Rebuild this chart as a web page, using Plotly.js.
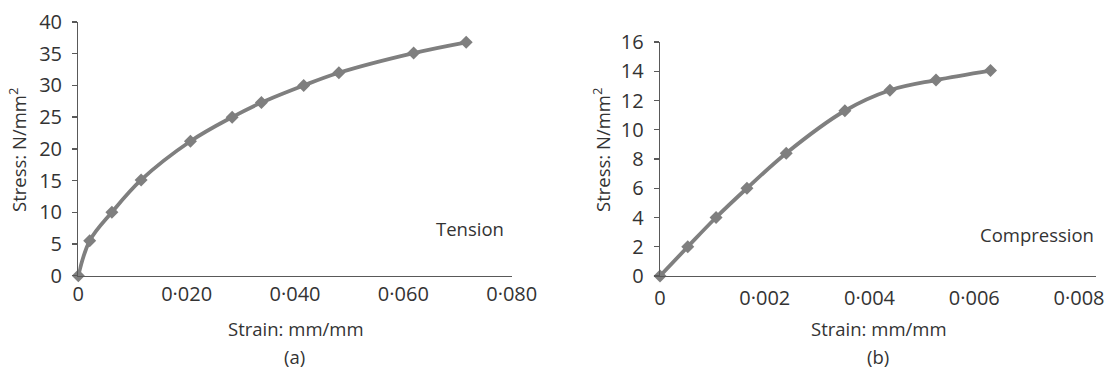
<!DOCTYPE html>
<html>
<head>
<meta charset="utf-8">
<script src="https://cdn.plot.ly/plotly-3.0.1.min.js"></script>
<style>
html,body{margin:0;padding:0;background:#fff;}
#chart{width:1107px;height:369px;}
</style>
</head>
<body>
<div id="chart"></div>
<script>
// Tension (a)
var tensionStrain = [0, 0.0021, 0.0062, 0.0116, 0.0207, 0.0284, 0.0338, 0.0416, 0.0481, 0.0619, 0.0716];
var tensionStress = [0, 5.5, 10.0, 15.1, 21.2, 25.0, 27.3, 30.0, 32.0, 35.1, 36.8];
// Compression (b)
var compStrain = [0, 0.00053, 0.00107, 0.00166, 0.00241, 0.00353, 0.00439, 0.00527, 0.00631];
var compStress = [0, 2.0, 4.0, 6.0, 8.4, 11.3, 12.7, 13.4, 14.05];

var tensionXTicks = [0, 0.02, 0.04, 0.06, 0.08];
var tensionXLabels = ['0', '0·020', '0·040', '0·060', '0·080'];
var tensionYTicks = [0, 5, 10, 15, 20, 25, 30, 35, 40];
var compXTicks = [0, 0.002, 0.004, 0.006, 0.008];
var compXLabels = ['0', '0·002', '0·004', '0·006', '0·008'];
var compYTicks = [0, 2, 4, 6, 8, 10, 12, 14, 16];

var W = 1107, H = 369;
function px(x){return x / W;}
function py(y){return 1 - y / H;}

var lineColor = '#7f7f7f';
var textColor = '#333333';
var axisColor = '#595959';
var FONT = '"Open Sans", sans-serif';

function series(x, y, xa, ya) {
  return {
    x: x, y: y, xaxis: xa, yaxis: ya,
    type: 'scatter', mode: 'lines+markers',
    line: {color: lineColor, width: 3.8, shape: 'spline', smoothing: 1},
    marker: {symbol: 'diamond', size: 10, color: lineColor},
    cliponaxis: false, hoverinfo: 'skip', showlegend: false
  };
}

var data = [
  series(tensionStrain, tensionStress, 'x', 'y'),
  series(compStrain, compStress, 'x2', 'y2')
];

function xaxisCfg(domain, range, vals, labels, standoff) {
  return {
    domain: domain, range: range, tickvals: vals, ticktext: labels,
    showline: true, linecolor: axisColor, linewidth: 1.3,
    ticks: '', showgrid: false, zeroline: false,
    tickfont: {family: FONT, size: 20, color: textColor},
    ticklabelstandoff: standoff, fixedrange: true
  };
}
function yaxisCfg(domain, range, vals, anchor) {
  return {
    domain: domain, range: range, tickvals: vals, anchor: anchor,
    showline: true, linecolor: axisColor, linewidth: 1.3,
    ticks: 'outside', ticklen: 5, tickwidth: 1.3, tickcolor: axisColor,
    showgrid: false, zeroline: false,
    tickfont: {family: FONT, size: 20, color: textColor},
    ticklabelstandoff: 6, fixedrange: true
  };
}

var xa = xaxisCfg([px(78.3), px(511.7)], [0, 0.08], tensionXTicks, tensionXLabels, 0);
xa.anchor = 'y';
var xa2 = xaxisCfg([px(660), px(1096)], [0, 0.008 * 436 / 419], compXTicks, compXLabels, 4);
xa2.anchor = 'y2';

function ann(text, x, y, angle, size) {
  var a = {
    text: text, xref: 'paper', yref: 'paper', x: px(x), y: py(y),
    xanchor: 'center', yanchor: 'middle', showarrow: false,
    font: {family: FONT, size: size || 18.5, color: textColor}
  };
  if (angle) a.textangle = angle;
  return a;
}

var layout = {
  width: W, height: H,
  margin: {l: 0, r: 0, t: 0, b: 0, pad: 0},
  paper_bgcolor: '#ffffff', plot_bgcolor: '#ffffff',
  showlegend: false,
  xaxis: xa,
  yaxis: yaxisCfg([py(275.7), py(22)], [0, 40], tensionYTicks, 'x'),
  xaxis2: xa2,
  yaxis2: yaxisCfg([py(276), py(42)], [0, 16], compYTicks, 'x2'),
  annotations: [
    ann('Stress: N/mm<sup>2</sup>', 17, 150, -90),
    ann('Stress: N/mm<sup>2</sup>', 601, 150, -90),
    ann('Strain: mm/mm', 295.5, 328),
    ann('Strain: mm/mm', 878.7, 328),
    ann('(a)', 294.7, 356),
    ann('(b)', 877.5, 356),
    ann('Tension', 470, 228.5),
    ann('Compression', 1037, 234)
  ]
};

Plotly.newPlot('chart', data, layout, {staticPlot: true, displayModeBar: false});
</script>
</body>
</html>
